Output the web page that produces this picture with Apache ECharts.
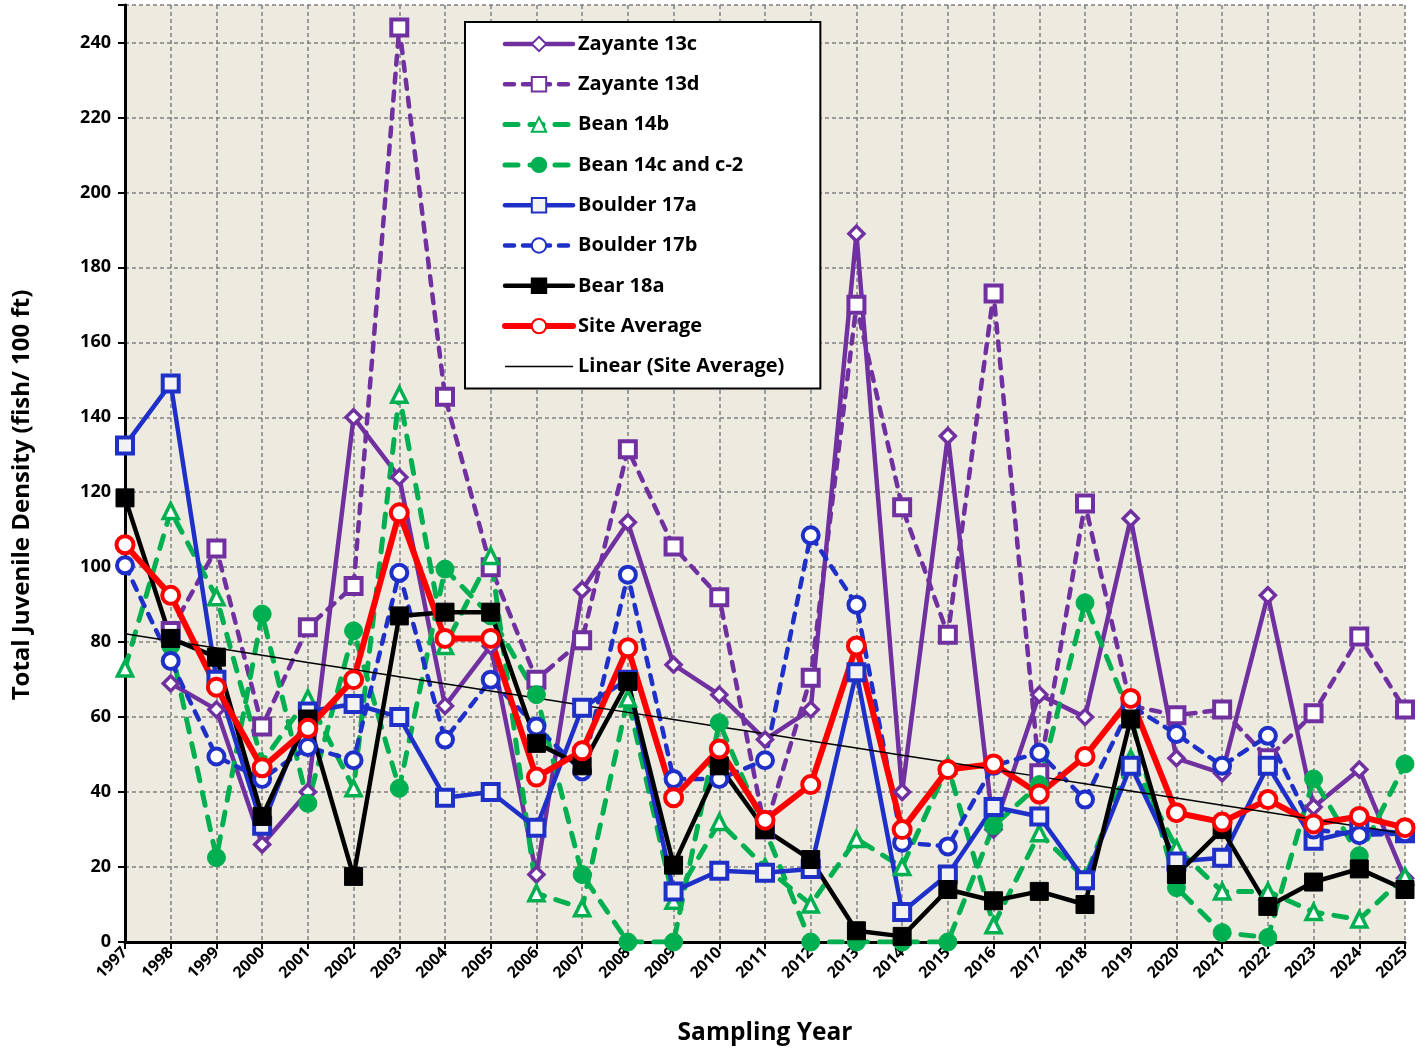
<!DOCTYPE html>
<html>
<head>
<meta charset="utf-8">
<script src="https://cdn.jsdelivr.net/npm/echarts@6/dist/echarts.min.js"></script>
<style>
html,body{margin:0;padding:0;background:#fff;}
#chart{width:1419px;height:1050px;}
</style>
</head>
<body>
<div id="chart"></div>
<script>
const years = ['1997','1998','1999','2000','2001','2002','2003','2004','2005','2006','2007','2008','2009','2010','2011','2012','2013','2014','2015','2016','2017','2018','2019','2020','2021','2022','2023','2024','2025'];
const yTicks = [0,20,40,60,80,100,120,140,160,180,200,220,240];

const zayante13c = [null,69,62,26,40,140,124,63,79,18,94,112,74,66,54,62,189,40,135,30,66,60,113,49,45,92.5,36,46,17];
const zayante13d = [null,83,105,57.5,84,95,244,145.5,100,70,80.5,131.5,105.5,92,30,70.5,170,116,82,173,45,117,63,60.5,62,49,61,81.5,62];
const bean14b = [73,115,92,48,65,41,146,79,103,13,9,65,11,32,20,10,27.5,20,47,4.5,29,17,49,25,13.5,13.5,8,6,17.5];
const bean14c = [null,79,22.5,87.5,37,83,41,99.5,87,66,18,0,0,58.5,30,0,0,0,0,31,42,90.5,60,14.5,2.5,1.2,43.5,23,47.5];
const boulder17a = [132.5,149,70,31,61.5,63.5,60,38.5,40,30.5,62.5,70,13.5,19,18.5,19.5,72,8,18,36,33.5,16.5,47,21.5,22.5,47,27,30,29];
const boulder17b = [100.5,75,49.5,43.5,52,48.5,98.5,54,70,57.5,45.5,98,43.5,43.5,48.5,108.5,90,26.5,25.5,47,50.5,38,63,55.5,47,55,30,28.5,29];
const bear18a = [118.5,81,76,33.5,59.5,17.5,87,88,88,53,47,69.5,20.5,47,30,22,3,1.5,14,11,13.5,10,59.5,18,30,9.5,16,19.5,14];
const siteAverage = [106,92.5,68,46.5,57,70,114.5,81,81,44,51,78.5,38.5,51.5,32.5,42,79,30,46,47.5,39.5,49.5,65,34.5,32,38,31.5,33.5,30.5];

// Linear trend (least squares) of Site Average
function linearTrend(vals){
  const n = vals.length; let sx=0,sy=0,sxx=0,sxy=0;
  vals.forEach((v,i)=>{sx+=i;sy+=v;sxx+=i*i;sxy+=i*v;});
  const b=(n*sxy-sx*sy)/(n*sxx-sx*sx); const a=(sy-b*sx)/n;
  return vals.map((v,i)=>+(a+b*i).toFixed(3));
}
const trend = linearTrend(siteAverage);

const PURPLE='#7030A0', GREEN='#00B050', BLUE='#1F30C8', RED='#FF0000', BLACK='#000000';

function mk(name, data, color, lineType, width, symbol, size, fill, bw){
  return {
    name, type:'line', data, connectNulls:false,
    lineStyle:{color, width, type:lineType, cap:'round', join:'round'},
    itemStyle:{color:fill, borderColor:color, borderWidth:bw},
    symbol, symbolSize:size, showAllSymbol:true,
    emphasis:{disabled:true}, animation:false
  };
}

const series = [
  mk('Zayante 13c', zayante13c, PURPLE, 'solid', 4.5, 'diamond', 15, '#ffffff', 3.5),
  mk('Zayante 13d', zayante13d, PURPLE, [9,9], 4.5, 'rect', 16, '#ffffff', 4),
  mk('Bean 14b', bean14b, GREEN, [13,12], 5, 'triangle', 15, '#ffffff', 3.5),
  mk('Bean 14c and c-2', bean14c, GREEN, [13,12], 5, 'circle', 18, GREEN, 1),
  mk('Boulder 17a', boulder17a, BLUE, 'solid', 4.5, 'rect', 16, '#F2F2F2', 4),
  mk('Boulder 17b', boulder17b, BLUE, [9,9], 4.5, 'circle', 16, '#ffffff', 4),
  mk('Bear 18a', bear18a, BLACK, 'solid', 4.5, 'rect', 18, BLACK, 1),
  mk('Site Average', siteAverage, RED, 'solid', 6, 'circle', 17, '#ffffff', 4),
  {name:'Linear (Site Average)', type:'line', data:trend, symbol:'none', lineStyle:{color:BLACK,width:1.5}, itemStyle:{color:'rgba(0,0,0,0)', borderWidth:0}, emphasis:{disabled:true}, animation:false}
];

const chart = echarts.init(document.getElementById('chart'), null, {renderer:'canvas'});
chart.setOption({
  animation:false,
  backgroundColor:'#ffffff',
  grid:{left:125, right:14, top:5, bottom:108, show:true, backgroundColor:'#EDEBE0', borderWidth:0},
  legend:{
    orient:'vertical', left:465, top:22,
    backgroundColor:'#ffffff', borderColor:'#000', borderWidth:2,
    padding:[12,36,12,37],
    itemWidth:68, itemHeight:18, itemGap:20.3,
    lineStyle:{width:'inherit', type:'inherit'},
    textStyle:{fontFamily:'Open Sans', fontWeight:'bold', fontSize:20, color:'#000'},
    selectedMode:false,
    data:series.map(s=>s.name)
  },
  xAxis:{
    type:'category', data:years, boundaryGap:false,
    axisLine:{lineStyle:{color:'#000', width:3}},
    axisTick:{show:true, length:7, lineStyle:{color:'#000', width:2}, alignWithLabel:true},
    axisLabel:{rotate:45, interval:0, fontFamily:'Open Sans', fontWeight:'bold', fontSize:16, color:'#000', margin:8},
    splitLine:{show:true, lineStyle:{color:'#808080', width:1.5, type:[4,3]}}
  },
  yAxis:{
    type:'value', min:0, max:250, interval:20,
    axisLine:{show:true, lineStyle:{color:'#000', width:3}},
    axisTick:{show:true, length:7, lineStyle:{color:'#000', width:2}},
    axisLabel:{fontFamily:'Open Sans', fontWeight:'bold', fontSize:18, color:'#000', margin:14,
      formatter:v=>yTicks.indexOf(v)>=0?String(v):''},
    splitLine:{show:true, lineStyle:{color:'#808080', width:1.5, type:[4,3]}}
  },
  graphic:[
    {type:'text', x:22, y:495, rotation:Math.PI/2, style:{text:'Total Juvenile Density (fish/ 100 ft)', font:'bold 24px "Open Sans"', fill:'#000', align:'center', verticalAlign:'middle'}},
    {type:'text', x:765, y:1033, style:{text:'Sampling Year', font:'bold 24.5px "Open Sans"', fill:'#000', align:'center', verticalAlign:'middle'}}
  ],
  series
});
</script>
</body>
</html>
